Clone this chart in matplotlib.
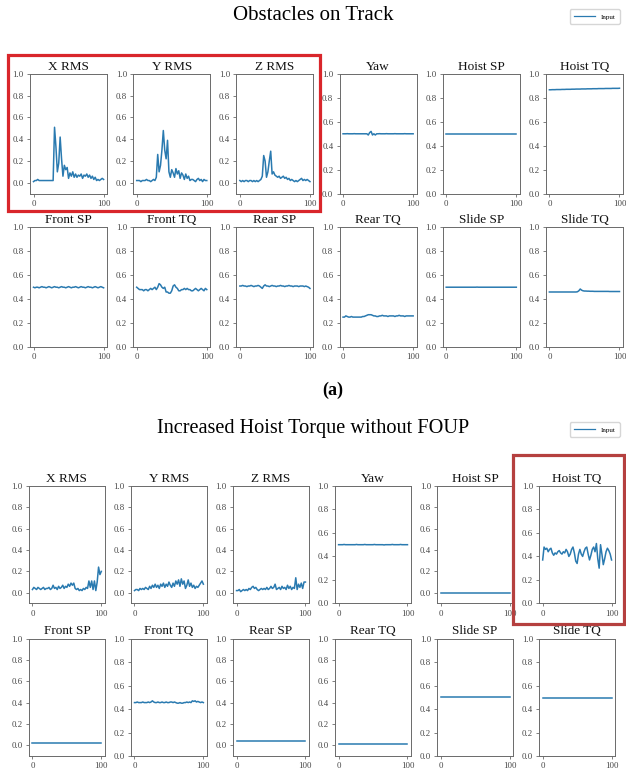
# Recriacao da figura com dois paineis de sinais de entrada (a) e (b)
import numpy as np
import matplotlib
matplotlib.use("Agg")
import matplotlib.pyplot as plt
from matplotlib.patches import Rectangle
from matplotlib.lines import Line2D

plt.rcParams['font.family'] = 'serif'
plt.rcParams['font.serif'] = ['Liberation Serif', 'DejaVu Serif']

# eixo x comum (amostras)
x = np.arange(0, 101, 2)

titulos = ['X RMS', 'Y RMS', 'Z RMS', 'Yaw', 'Hoist SP', 'Hoist TQ',
           'Front SP', 'Front TQ', 'Rear SP', 'Rear TQ', 'Slide SP', 'Slide TQ']

# ---------------- painel (a): Obstacles on Track ----------------
a_x_rms = [0.01, 0.02, 0.02, 0.03, 0.02, 0.02, 0.02, 0.02, 0.02, 0.02,
           0.02, 0.02, 0.02, 0.02, 0.02, 0.51, 0.33, 0.10, 0.18, 0.42,
           0.22, 0.06, 0.16, 0.12, 0.14, 0.04, 0.09, 0.06, 0.10, 0.05,
           0.08, 0.05, 0.07, 0.06, 0.08, 0.04, 0.07, 0.06, 0.08, 0.05,
           0.07, 0.04, 0.06, 0.03, 0.05, 0.02, 0.03, 0.02, 0.03, 0.04, 0.03]
a_y_rms = [0.02, 0.02, 0.02, 0.01, 0.02, 0.02, 0.02, 0.03, 0.02, 0.02,
           0.01, 0.02, 0.03, 0.02, 0.05, 0.26, 0.10, 0.16, 0.30, 0.48,
           0.30, 0.22, 0.39, 0.10, 0.05, 0.12, 0.09, 0.05, 0.13, 0.08,
           0.11, 0.04, 0.09, 0.07, 0.03, 0.08, 0.04, 0.06, 0.02, 0.03,
           0.03, 0.02, 0.01, 0.03, 0.04, 0.02, 0.03, 0.01, 0.03, 0.02, 0.02]
a_z_rms = [0.02, 0.01, 0.02, 0.01, 0.02, 0.02, 0.01, 0.02, 0.02, 0.01,
           0.02, 0.01, 0.02, 0.01, 0.02, 0.03, 0.06, 0.25, 0.20, 0.05,
           0.10, 0.20, 0.29, 0.08, 0.10, 0.07, 0.06, 0.05, 0.06, 0.04,
           0.05, 0.06, 0.04, 0.05, 0.03, 0.04, 0.02, 0.03, 0.02, 0.01,
           0.02, 0.01, 0.02, 0.03, 0.04, 0.02, 0.03, 0.02, 0.03, 0.02, 0.01]
a_yaw = [0.50, 0.50, 0.50, 0.501, 0.50, 0.50, 0.50, 0.50, 0.501, 0.50,
         0.50, 0.50, 0.50, 0.50, 0.50, 0.50, 0.50, 0.50, 0.49, 0.51,
         0.52, 0.49, 0.50, 0.49, 0.50, 0.50, 0.501, 0.50, 0.50, 0.50,
         0.50, 0.501, 0.50, 0.50, 0.50, 0.50, 0.50, 0.501, 0.50, 0.50,
         0.50, 0.50, 0.50, 0.50, 0.501, 0.50, 0.50, 0.50, 0.50, 0.50, 0.50]
a_hoist_sp = [0.50, 0.50, 0.50, 0.50, 0.50, 0.50, 0.50, 0.50, 0.50, 0.50,
              0.50, 0.50, 0.50, 0.50, 0.50, 0.50, 0.50, 0.50, 0.50, 0.50,
              0.50, 0.50, 0.50, 0.50, 0.50, 0.50, 0.50, 0.50, 0.50, 0.50,
              0.50, 0.50, 0.50, 0.50, 0.50, 0.50, 0.50, 0.50, 0.50, 0.50,
              0.50, 0.50, 0.50, 0.50, 0.50, 0.50, 0.50, 0.50, 0.50, 0.50, 0.50]
a_hoist_tq = [0.868, 0.868, 0.869, 0.869, 0.869, 0.870, 0.870, 0.870, 0.870, 0.871,
              0.871, 0.871, 0.872, 0.872, 0.872, 0.872, 0.873, 0.873, 0.873, 0.874,
              0.874, 0.874, 0.874, 0.875, 0.875, 0.875, 0.875, 0.876, 0.876, 0.876,
              0.876, 0.877, 0.877, 0.877, 0.877, 0.878, 0.878, 0.878, 0.878, 0.878,
              0.879, 0.879, 0.879, 0.879, 0.879, 0.880, 0.880, 0.880, 0.880, 0.880, 0.881]
a_front_sp = [0.50, 0.495, 0.50, 0.50, 0.495, 0.50, 0.505, 0.50, 0.50, 0.495,
              0.50, 0.505, 0.50, 0.495, 0.50, 0.505, 0.50, 0.50, 0.495, 0.50,
              0.505, 0.50, 0.50, 0.495, 0.50, 0.505, 0.50, 0.495, 0.50, 0.50,
              0.505, 0.50, 0.495, 0.50, 0.505, 0.50, 0.50, 0.495, 0.50, 0.505,
              0.50, 0.50, 0.495, 0.50, 0.505, 0.50, 0.495, 0.50, 0.505, 0.50, 0.495]
a_front_tq = [0.50, 0.49, 0.48, 0.48, 0.48, 0.47, 0.48, 0.48, 0.47, 0.48,
              0.49, 0.48, 0.49, 0.50, 0.48, 0.50, 0.53, 0.52, 0.50, 0.49,
              0.50, 0.46, 0.46, 0.45, 0.45, 0.47, 0.51, 0.52, 0.50, 0.49,
              0.47, 0.47, 0.48, 0.48, 0.49, 0.48, 0.49, 0.48, 0.48, 0.47,
              0.47, 0.48, 0.49, 0.48, 0.47, 0.48, 0.49, 0.48, 0.47, 0.49, 0.48]
a_rear_sp = [0.51, 0.51, 0.515, 0.51, 0.51, 0.505, 0.51, 0.51, 0.515, 0.51,
             0.505, 0.51, 0.51, 0.515, 0.51, 0.50, 0.49, 0.51, 0.52, 0.51,
             0.51, 0.505, 0.51, 0.515, 0.51, 0.51, 0.505, 0.51, 0.51, 0.515,
             0.51, 0.51, 0.505, 0.51, 0.51, 0.515, 0.51, 0.51, 0.505, 0.51,
             0.51, 0.51, 0.505, 0.51, 0.51, 0.51, 0.505, 0.51, 0.505, 0.50, 0.49]
a_rear_tq = [0.25, 0.25, 0.26, 0.255, 0.25, 0.25, 0.255, 0.25, 0.25, 0.25,
             0.25, 0.25, 0.25, 0.25, 0.255, 0.255, 0.26, 0.265, 0.27, 0.27,
             0.27, 0.265, 0.26, 0.26, 0.255, 0.255, 0.26, 0.26, 0.265, 0.26,
             0.26, 0.26, 0.255, 0.26, 0.26, 0.26, 0.26, 0.255, 0.26, 0.26,
             0.265, 0.26, 0.26, 0.26, 0.255, 0.26, 0.26, 0.26, 0.26, 0.26, 0.26]
a_slide_sp = [0.50, 0.50, 0.50, 0.50, 0.50, 0.50, 0.50, 0.50, 0.50, 0.50,
              0.50, 0.50, 0.50, 0.50, 0.50, 0.50, 0.50, 0.50, 0.50, 0.50,
              0.50, 0.50, 0.501, 0.50, 0.50, 0.50, 0.50, 0.50, 0.50, 0.50,
              0.50, 0.50, 0.50, 0.50, 0.50, 0.50, 0.50, 0.50, 0.50, 0.50,
              0.50, 0.50, 0.50, 0.50, 0.50, 0.50, 0.50, 0.50, 0.50, 0.50, 0.50]
a_slide_tq = [0.46, 0.46, 0.46, 0.46, 0.46, 0.46, 0.46, 0.46, 0.46, 0.46,
              0.46, 0.46, 0.46, 0.46, 0.46, 0.46, 0.46, 0.46, 0.46, 0.46,
              0.462, 0.47, 0.485, 0.475, 0.47, 0.468, 0.468, 0.467, 0.467, 0.466,
              0.466, 0.466, 0.465, 0.465, 0.465, 0.465, 0.465, 0.465, 0.465, 0.465,
              0.465, 0.465, 0.465, 0.464, 0.464, 0.464, 0.464, 0.464, 0.464, 0.464, 0.464]

# ---------------- painel (b): Increased Hoist Torque without FOUP ----------------
b_x_rms = [0.03, 0.05, 0.04, 0.03, 0.05, 0.04, 0.03, 0.04, 0.05, 0.03,
           0.04, 0.04, 0.05, 0.03, 0.04, 0.07, 0.04, 0.05, 0.03, 0.06,
           0.04, 0.05, 0.07, 0.04, 0.06, 0.05, 0.08, 0.06, 0.09, 0.07,
           0.09, 0.04, 0.03, 0.04, 0.02, 0.03, 0.02, 0.04, 0.03, 0.05,
           0.04, 0.11, 0.05, 0.11, 0.03, 0.11, 0.02, 0.10, 0.24, 0.17, 0.20]
b_y_rms = [0.02, 0.03, 0.03, 0.02, 0.04, 0.03, 0.04, 0.03, 0.05, 0.04,
           0.03, 0.06, 0.04, 0.07, 0.05, 0.08, 0.05, 0.07, 0.04, 0.08,
           0.06, 0.09, 0.05, 0.08, 0.06, 0.10, 0.07, 0.05, 0.09, 0.06,
           0.11, 0.08, 0.12, 0.06, 0.13, 0.08, 0.11, 0.04, 0.07, 0.12,
           0.06, 0.09, 0.05, 0.07, 0.04, 0.06, 0.05, 0.07, 0.09, 0.11, 0.08]
b_z_rms = [0.02, 0.02, 0.03, 0.01, 0.02, 0.03, 0.02, 0.03, 0.02, 0.04,
           0.03, 0.05, 0.06, 0.04, 0.05, 0.03, 0.02, 0.03, 0.04, 0.03,
           0.04, 0.03, 0.05, 0.03, 0.04, 0.06, 0.04, 0.05, 0.08, 0.03,
           0.04, 0.05, 0.03, 0.06, 0.04, 0.05, 0.03, 0.07, 0.04, 0.06,
           0.03, 0.05, 0.04, 0.14, 0.03, 0.08, 0.05, 0.09, 0.04, 0.10, 0.10]
b_yaw = [0.50, 0.50, 0.50, 0.50, 0.502, 0.50, 0.50, 0.50, 0.50, 0.50,
         0.50, 0.50, 0.50, 0.502, 0.50, 0.50, 0.50, 0.50, 0.50, 0.502,
         0.50, 0.50, 0.50, 0.50, 0.50, 0.50, 0.502, 0.50, 0.50, 0.50,
         0.50, 0.50, 0.50, 0.498, 0.50, 0.50, 0.50, 0.50, 0.50, 0.502,
         0.50, 0.50, 0.50, 0.50, 0.50, 0.502, 0.50, 0.50, 0.50, 0.50, 0.50]
b_hoist_sp = [0.00, 0.00, 0.00, 0.00, 0.00, 0.00, 0.00, 0.00, 0.00, 0.00,
              0.00, 0.00, 0.00, 0.00, 0.00, 0.00, 0.00, 0.00, 0.00, 0.00,
              0.00, 0.00, 0.00, 0.00, 0.00, 0.00, 0.00, 0.00, 0.00, 0.00,
              0.00, 0.00, 0.00, 0.00, 0.00, 0.00, 0.00, 0.00, 0.00, 0.00,
              0.00, 0.00, 0.00, 0.00, 0.00, 0.00, 0.00, 0.00, 0.00, 0.00, 0.00]
b_hoist_tq = [0.37, 0.48, 0.46, 0.47, 0.44, 0.46, 0.47, 0.43, 0.41, 0.43,
              0.42, 0.44, 0.45, 0.43, 0.42, 0.44, 0.43, 0.46, 0.44, 0.40,
              0.42, 0.46, 0.48, 0.43, 0.36, 0.34, 0.42, 0.46, 0.42, 0.40,
              0.44, 0.47, 0.48, 0.42, 0.37, 0.41, 0.46, 0.48, 0.44, 0.51,
              0.38, 0.30, 0.50, 0.42, 0.33, 0.38, 0.44, 0.47, 0.45, 0.42, 0.37]
b_front_sp = [0.02, 0.02, 0.02, 0.02, 0.02, 0.02, 0.02, 0.02, 0.02, 0.02,
              0.02, 0.02, 0.02, 0.02, 0.02, 0.02, 0.02, 0.02, 0.02, 0.02,
              0.02, 0.02, 0.02, 0.02, 0.02, 0.02, 0.02, 0.02, 0.02, 0.02,
              0.02, 0.02, 0.02, 0.02, 0.02, 0.02, 0.02, 0.02, 0.02, 0.02,
              0.02, 0.02, 0.02, 0.02, 0.02, 0.02, 0.02, 0.02, 0.02, 0.02, 0.02]
b_front_tq = [0.455, 0.455, 0.46, 0.455, 0.455, 0.455, 0.46, 0.455, 0.455, 0.455,
              0.46, 0.455, 0.46, 0.47, 0.46, 0.455, 0.455, 0.46, 0.455, 0.455,
              0.46, 0.455, 0.455, 0.46, 0.455, 0.455, 0.46, 0.46, 0.455, 0.46,
              0.455, 0.45, 0.45, 0.455, 0.45, 0.45, 0.455, 0.455, 0.46, 0.455,
              0.46, 0.455, 0.47, 0.465, 0.47, 0.46, 0.465, 0.46, 0.455, 0.46, 0.455]
b_rear_sp = [0.04, 0.04, 0.04, 0.04, 0.04, 0.04, 0.04, 0.04, 0.04, 0.04,
             0.04, 0.04, 0.04, 0.04, 0.04, 0.04, 0.04, 0.04, 0.04, 0.04,
             0.04, 0.04, 0.04, 0.04, 0.04, 0.04, 0.04, 0.04, 0.04, 0.04,
             0.04, 0.04, 0.04, 0.04, 0.04, 0.04, 0.04, 0.04, 0.04, 0.04,
             0.04, 0.04, 0.04, 0.04, 0.04, 0.04, 0.04, 0.04, 0.04, 0.04, 0.04]
b_rear_tq = [0.01, 0.01, 0.01, 0.01, 0.01, 0.01, 0.01, 0.01, 0.01, 0.01,
             0.01, 0.01, 0.01, 0.01, 0.01, 0.01, 0.01, 0.01, 0.01, 0.01,
             0.01, 0.01, 0.01, 0.01, 0.01, 0.01, 0.01, 0.01, 0.01, 0.01,
             0.01, 0.01, 0.01, 0.01, 0.01, 0.01, 0.01, 0.01, 0.01, 0.01,
             0.01, 0.01, 0.01, 0.01, 0.01, 0.01, 0.01, 0.01, 0.01, 0.01, 0.01]
b_slide_sp = [0.50, 0.50, 0.50, 0.50, 0.50, 0.50, 0.50, 0.50, 0.50, 0.50,
              0.50, 0.50, 0.50, 0.50, 0.50, 0.50, 0.50, 0.50, 0.50, 0.50,
              0.50, 0.50, 0.50, 0.50, 0.50, 0.50, 0.50, 0.50, 0.50, 0.50,
              0.50, 0.50, 0.50, 0.50, 0.50, 0.50, 0.50, 0.50, 0.50, 0.50,
              0.50, 0.50, 0.50, 0.50, 0.50, 0.50, 0.50, 0.50, 0.50, 0.50, 0.50]
b_slide_tq = [0.49, 0.49, 0.49, 0.49, 0.49, 0.49, 0.49, 0.49, 0.49, 0.49,
              0.49, 0.49, 0.49, 0.49, 0.49, 0.49, 0.49, 0.49, 0.49, 0.49,
              0.49, 0.49, 0.49, 0.49, 0.49, 0.49, 0.49, 0.49, 0.49, 0.49,
              0.49, 0.49, 0.49, 0.49, 0.49, 0.49, 0.49, 0.49, 0.49, 0.49,
              0.49, 0.49, 0.49, 0.49, 0.49, 0.49, 0.49, 0.49, 0.49, 0.49, 0.49]

serie_a = [a_x_rms, a_y_rms, a_z_rms, a_yaw, a_hoist_sp, a_hoist_tq,
           a_front_sp, a_front_tq, a_rear_sp, a_rear_tq, a_slide_sp, a_slide_tq]
serie_b = [b_x_rms, b_y_rms, b_z_rms, b_yaw, b_hoist_sp, b_hoist_tq,
           b_front_sp, b_front_tq, b_rear_sp, b_rear_tq, b_slide_sp, b_slide_tq]

COR = '#2a7ab0'
CINZA = '#6a6a6a'
W, H = 626, 772

fig = plt.figure(figsize=(W / 100, H / 100), dpi=100)


def desenha_painel(series, gs):
    for i, y in enumerate(series):
        ax = fig.add_subplot(gs[i // 6, i % 6])
        ax.plot(x, y, color=COR, linewidth=1.1)
        base = -0.1 if min(y) < 0.1 else 0.0
        ax.set_ylim(base, 1.0)
        ax.set_yticks([0.0, 0.2, 0.4, 0.6, 0.8, 1.0])
        ax.set_xticks([0, 100])
        ax.set_title(titulos[i], fontsize=9.5, pad=3, color='#111111')
        ax.tick_params(labelsize=6.3, length=2.5, width=0.6, pad=2,
                       colors=CINZA, labelcolor='#444444')
        for s in ax.spines.values():
            s.set_color(CINZA)
            s.set_linewidth(0.7)


# painel (a)
gs_a = fig.add_gridspec(2, 6, left=30 / W, right=623 / W, top=1 - 74 / H,
                        bottom=1 - 347 / H, wspace=0.338, hspace=0.283)
desenha_painel(serie_a, gs_a)

# painel (b)
gs_b = fig.add_gridspec(2, 6, left=29 / W, right=615 / W, top=1 - 486 / H,
                        bottom=1 - 756 / H, wspace=0.347, hspace=0.30)
desenha_painel(serie_b, gs_b)

# titulos gerais
fig.text(0.5, 1 - 16 / H, 'Obstacles on Track', ha='center', va='center', fontsize=15)
fig.text(0.5, 1 - 428 / H, 'Increased Hoist Torque without FOUP', ha='center',
         va='center', fontsize=14.6)
fig.text(333 / W, 1 - 390 / H, '(a)', ha='center', va='center', fontsize=13,
         fontweight='bold')

# legendas
linha = Line2D([], [], color=COR, linewidth=0.9)
for ytop in [6, 419]:
    fig.legend([linha], ['Input'], loc='upper right',
               bbox_to_anchor=(623 / W, 1 - ytop / H), fontsize=5,
               frameon=True, handlelength=3, borderpad=0.6, edgecolor='#cccccc')

# caixas vermelhas de destaque
fig.patches.append(Rectangle((8 / W, 1 - 211 / H), 312 / W, 156 / H,
                             transform=fig.transFigure, fill=False,
                             edgecolor='#d9262b', linewidth=2.3, zorder=10))
fig.patches.append(Rectangle((513 / W, 1 - 624 / H), 111 / W, 169 / H,
                             transform=fig.transFigure, fill=False,
                             edgecolor='#b5403f', linewidth=2.3, zorder=10))

plt.savefig('out.png', dpi=100)
